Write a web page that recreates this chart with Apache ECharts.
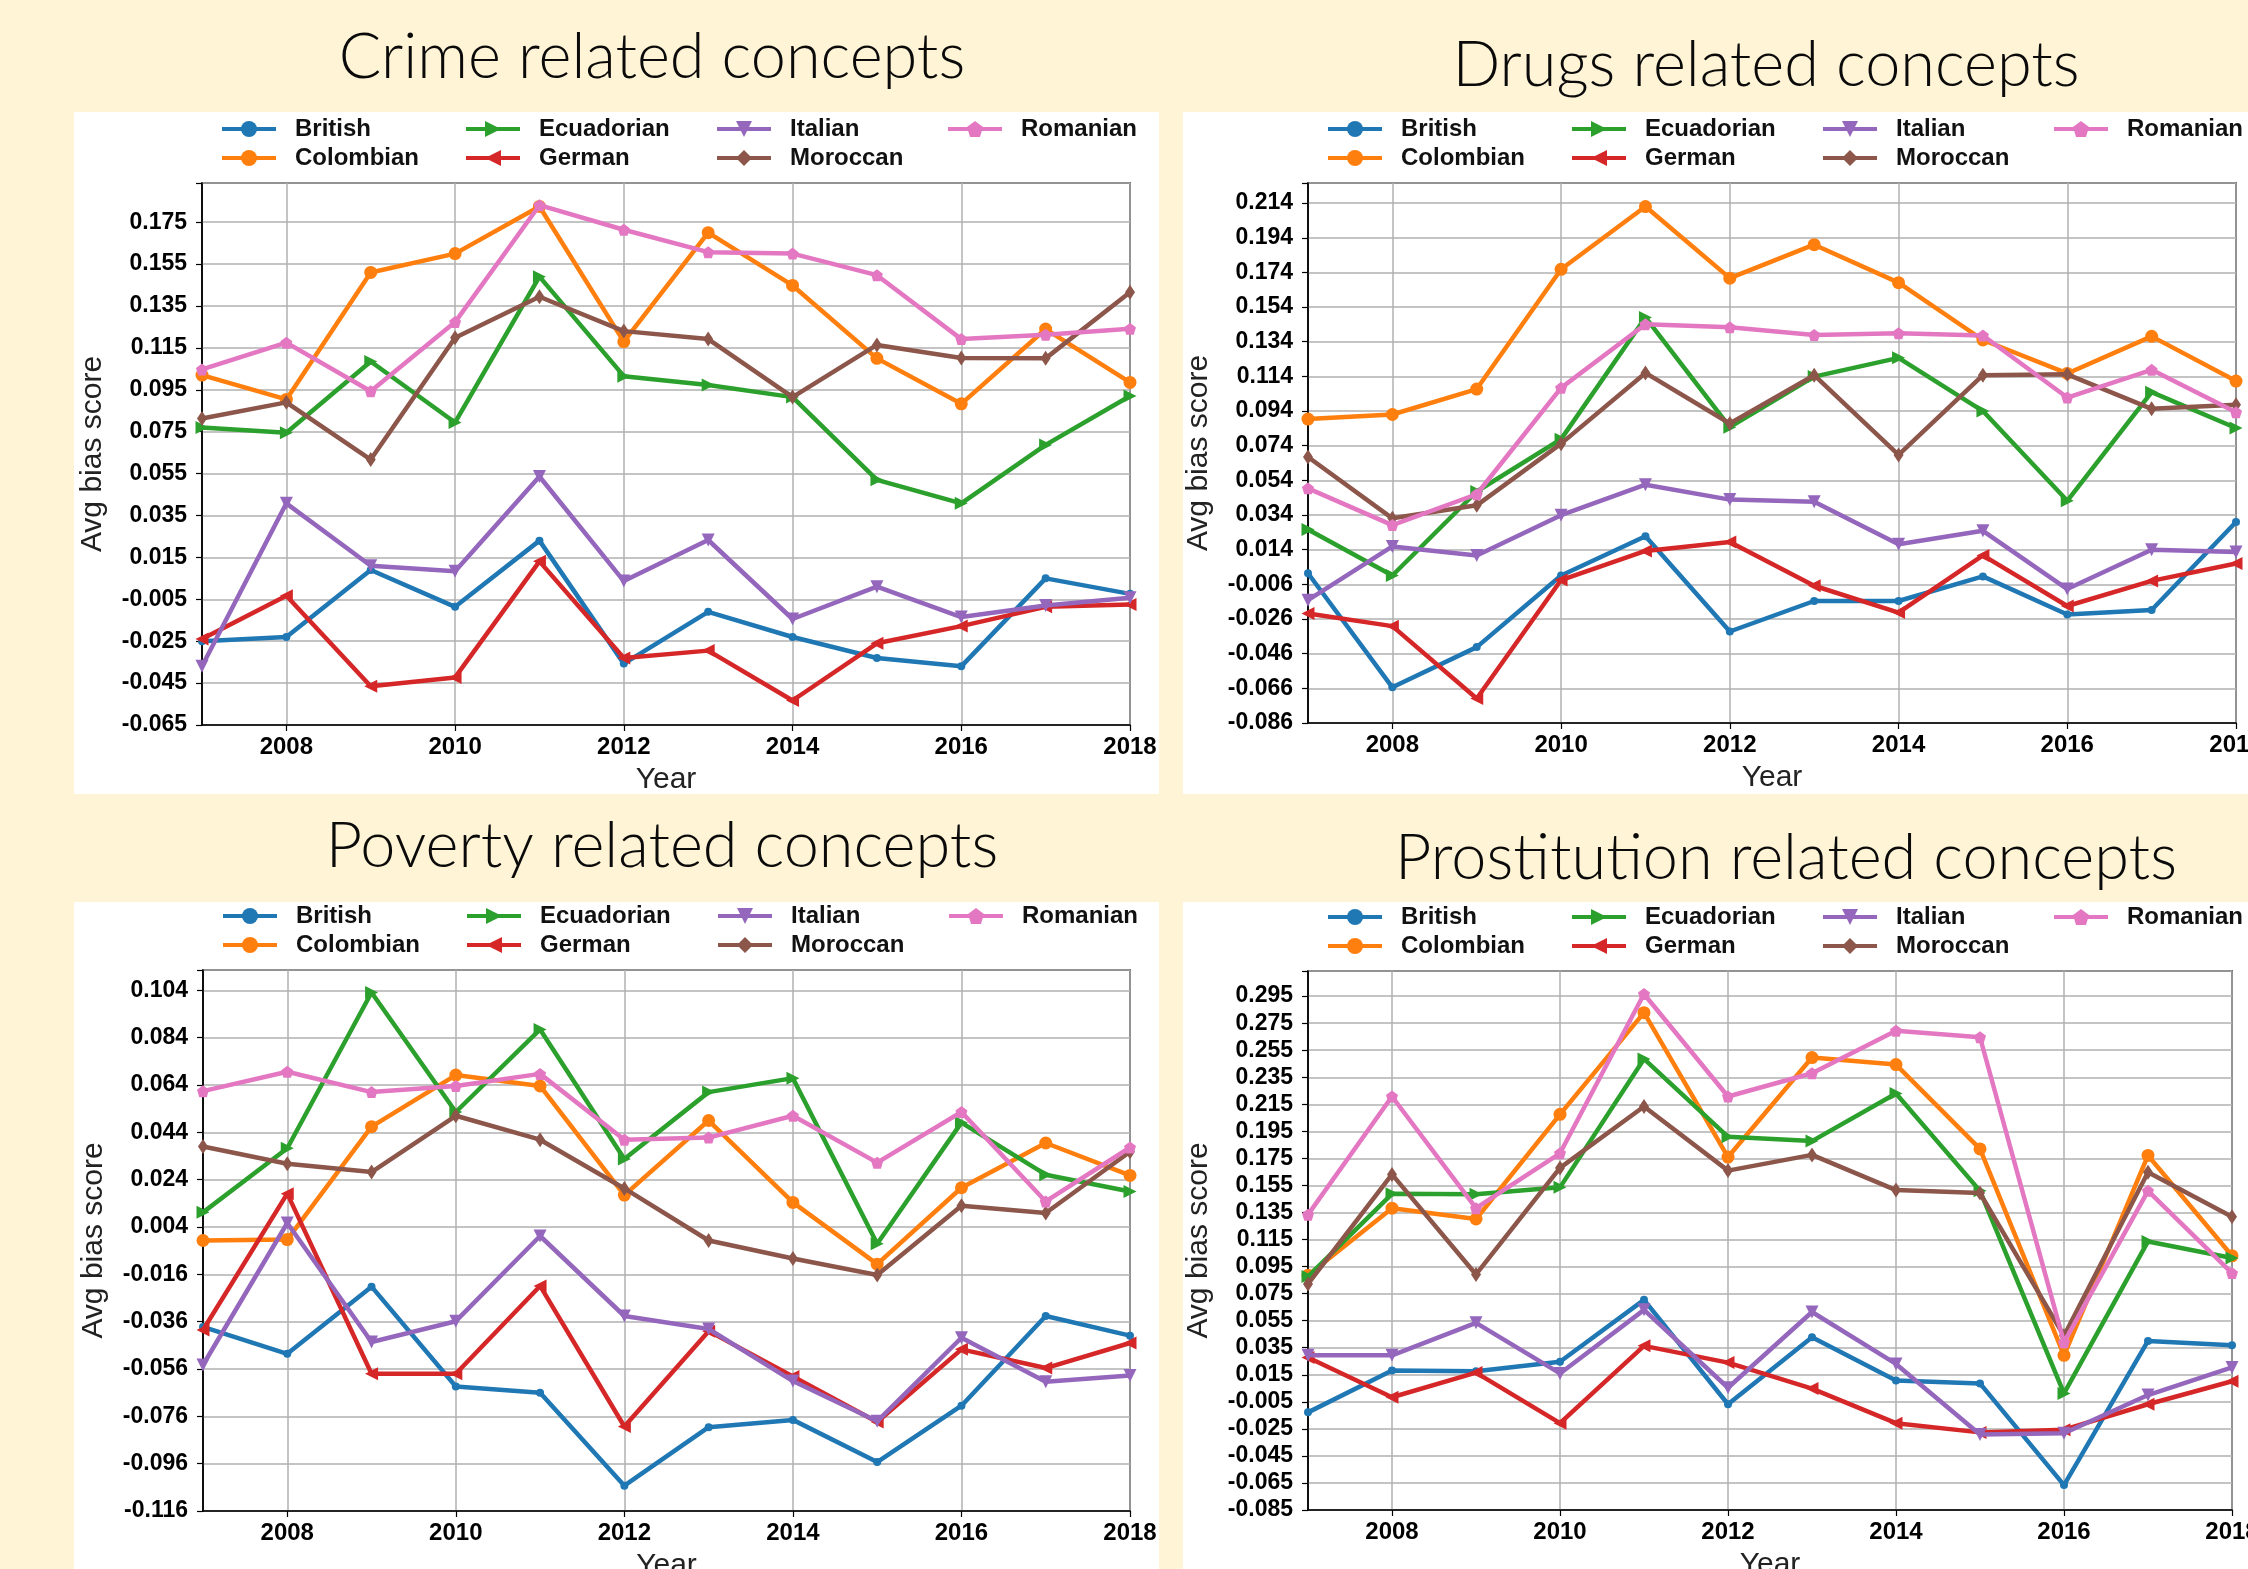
<!DOCTYPE html>
<html><head><meta charset="utf-8">
<script src="https://cdn.jsdelivr.net/npm/echarts@6/dist/echarts.min.js"></script>
<style>html,body{margin:0;padding:0;background:#FFF4D6;} #c{width:2248px;height:1569px;}</style>
</head><body><div id="c"></div>
<script>
// ---------- data ----------
const years = ['2007','2008','2009','2010','2011','2012','2013','2014','2015','2016','2017','2018'];
const nationalities = ['British','Colombian','Ecuadorian','German','Italian','Moroccan','Romanian'];
const panelTitles = ['Crime related concepts','Drugs related concepts','Poverty related concepts','Prostitution related concepts'];
const yTickStart = [-0.065, -0.086, -0.116, -0.085];
const yAxisMax = [0.1937, 0.2256, 0.1126, 0.3136];
const yTickStep = 0.02;
const legendColumns = [['British','Colombian'],['Ecuadorian','German'],['Italian','Moroccan'],['Romanian']];

const crimeBritish    = [-0.025,-0.023, 0.009,-0.0086, 0.023,-0.0357,-0.011,-0.023,-0.033,-0.037, 0.005,-0.0024];
const crimeColombian  = [0.102, 0.0904, 0.151, 0.160, 0.1825, 0.118, 0.170, 0.1448, 0.110, 0.0883, 0.124, 0.0985];
const crimeEcuadorian = [0.077, 0.0745, 0.1085, 0.0794, 0.149, 0.1015, 0.0973, 0.0915, 0.052, 0.0408, 0.0687, 0.092];
const crimeGerman     = [-0.024,-0.0033,-0.0465,-0.0423, 0.0131,-0.033,-0.0295,-0.0533,-0.026,-0.0178,-0.0086,-0.0075];
const crimeItalian    = [-0.037, 0.0408, 0.011, 0.0084, 0.0536, 0.0037, 0.0233,-0.0144, 0.001,-0.0135,-0.008,-0.0043];
const crimeMoroccan   = [0.0813, 0.089, 0.0617, 0.1198, 0.1394, 0.123, 0.1192, 0.0915, 0.1164, 0.1102, 0.110, 0.1416];
const crimeRomanian   = [0.1047, 0.1175, 0.0943, 0.1273, 0.1831, 0.1714, 0.1607, 0.160, 0.1497, 0.1192, 0.1213, 0.1241];

const drugsBritish    = [0.0004,-0.0654,-0.0422,-0.0009, 0.0218,-0.0332,-0.0156,-0.0156,-0.0014,-0.0234,-0.0208, 0.030];
const drugsColombian  = [0.0894, 0.092, 0.1067, 0.1758, 0.212, 0.1707, 0.190, 0.1681, 0.135, 0.1157, 0.1371, 0.1113];
const drugsEcuadorian = [0.0257,-0.0009, 0.0476, 0.0778, 0.148, 0.0847, 0.1139, 0.1247, 0.094, 0.0422, 0.1049, 0.0842];
const drugsGerman     = [-0.0228,-0.0301,-0.0719,-0.0035, 0.0133, 0.0184,-0.0068,-0.0223, 0.0107,-0.0185,-0.004, 0.006];
const drugsItalian    = [-0.0151, 0.0159, 0.0107, 0.0339, 0.0515, 0.0429, 0.0417, 0.0171, 0.0249,-0.0087, 0.014, 0.0127];
const drugsMoroccan   = [0.0675, 0.0321, 0.0396, 0.0752, 0.116, 0.0868, 0.1147, 0.0687, 0.1147, 0.1152, 0.0953, 0.0976];
const drugsRomanian   = [0.0494, 0.0282, 0.046, 0.1074, 0.1441, 0.1423, 0.1379, 0.1389, 0.1376, 0.1018, 0.1178, 0.0933];

const povertyBritish    = [-0.0382,-0.0496,-0.0212,-0.0634,-0.066,-0.1053,-0.0806,-0.0775,-0.0953,-0.0715,-0.0336,-0.0419];
const povertyColombian  = [-0.0017,-0.0013, 0.0464, 0.0682, 0.0636, 0.0175, 0.049, 0.0144,-0.0117, 0.0206, 0.0395, 0.0258];
const povertyEcuadorian = [0.0102, 0.0373, 0.1031, 0.0526, 0.0875, 0.0327, 0.061, 0.0669,-0.0031, 0.0481, 0.0261, 0.019];
const povertyGerman     = [-0.0395, 0.0181,-0.058,-0.058,-0.0209,-0.0803,-0.040,-0.0592,-0.0784,-0.0477,-0.0556,-0.045];
const povertyItalian    = [-0.0543, 0.0057,-0.0446,-0.0358, 0.0002,-0.0336,-0.0391,-0.0611,-0.0781,-0.0428,-0.0614,-0.0587];
const povertyMoroccan   = [0.038, 0.0307, 0.0272, 0.051, 0.0409, 0.0203,-0.0017,-0.0093,-0.0163, 0.013, 0.0099, 0.0358];
const povertyRomanian   = [0.0614, 0.0696, 0.061, 0.0636, 0.0687, 0.0409, 0.0418, 0.051, 0.0312, 0.0526, 0.0148, 0.0376];

const prostBritish    = [-0.0128, 0.0182, 0.0176, 0.0246, 0.0704,-0.0068, 0.0428, 0.0108, 0.0086,-0.0666, 0.040, 0.0368];
const prostColombian  = [0.0886, 0.1382, 0.1302, 0.2076, 0.2828, 0.176, 0.2496, 0.2444, 0.182, 0.0294, 0.1772, 0.103];
const prostEcuadorian = [0.0876, 0.1488, 0.1485, 0.1536, 0.2486, 0.191, 0.1878, 0.223, 0.151, 0.0012, 0.1136, 0.1014];
const prostGerman     = [0.0278,-0.0016, 0.0166,-0.0208, 0.0364, 0.024, 0.0048,-0.0208,-0.0276,-0.0256,-0.0068, 0.0102];
const prostItalian    = [0.0294, 0.0294, 0.0534, 0.016, 0.063, 0.0054, 0.0614, 0.023,-0.0292,-0.0282, 0.000, 0.0204];
const prostMoroccan   = [0.0822, 0.1632, 0.0892, 0.168, 0.2134, 0.166, 0.1776, 0.1516, 0.1494, 0.0438, 0.1648, 0.1318];
const prostRomanian   = [0.1334, 0.2208, 0.1382, 0.1788, 0.2966, 0.2208, 0.238, 0.2694, 0.2646, 0.039, 0.151, 0.0902];

const panelData = [
  [crimeBritish, crimeColombian, crimeEcuadorian, crimeGerman, crimeItalian, crimeMoroccan, crimeRomanian],
  [drugsBritish, drugsColombian, drugsEcuadorian, drugsGerman, drugsItalian, drugsMoroccan, drugsRomanian],
  [povertyBritish, povertyColombian, povertyEcuadorian, povertyGerman, povertyItalian, povertyMoroccan, povertyRomanian],
  [prostBritish, prostColombian, prostEcuadorian, prostGerman, prostItalian, prostMoroccan, prostRomanian]
];

// ---------- styling / layout ----------
const colors = ['#1f77b4','#ff7f0e','#2ca02c','#d62728','#9467bd','#8c564b','#e377c2'];
const symbols = ['circle','circle','path://M0,0L10,5L0,10Z','path://M10,0L0,5L10,10Z','path://M0,0L10,0L5,10Z','diamond','path://M5,0L10,3.8L8.1,10L1.9,10L0,3.8Z'];
const symbolSizes = [8, 13, 13, 13, 13, [10,15], 12];
const grids = [
  {left:202, top:183, width:928, height:542},
  {left:1308, top:183, width:928, height:540},
  {left:203, top:970, width:927, height:541},
  {left:1308, top:971, width:924, height:539}
];
const panels = [
  {x:74, y:112, w:1085, h:682},
  {x:1183, y:112, w:1080, h:682},
  {x:74, y:902, w:1085, h:680},
  {x:1183, y:902, w:1080, h:680}
];
const titlePos = [[652,58],[1766,66],[662,847],[1786,859]];
const legendColOffsets = [18, 262, 513, 744];
const FONT = '"Liberation Sans", Arial, Helvetica, sans-serif';

const evenYear = (idx) => idx % 2 === 1;

const graphic = [];
panels.forEach(p => graphic.push({type:'rect', z:-10, shape:{x:p.x, y:p.y, width:p.w, height:p.h}, style:{fill:'#ffffff'}}));
panelTitles.forEach((t, i) => graphic.push({
  type:'text', z:10, x:titlePos[i][0], y:titlePos[i][1],
  style:{text:t, fontFamily:'Lato, "Open Sans", sans-serif', fontWeight:300, fontSize:63, fill:'#0a0a0a',
         align:'center', verticalAlign:'middle', textAlign:'center', textVerticalAlign:'middle'}
}));

const xAxis = [], yAxis = [], series = [], legend = [];
grids.forEach((g, p) => {
  xAxis.push({
    type:'category', gridIndex:p, data:years, boundaryGap:false,
    axisLine:{onZero:false, lineStyle:{color:'#000', width:1.5}},
    axisTick:{show:true, length:6, interval:evenYear, lineStyle:{color:'#000', width:1.2}},
    axisLabel:{interval:evenYear, fontFamily:FONT, fontWeight:'bold', fontSize:24, color:'#000', margin:10},
    splitLine:{show:true, interval:evenYear, lineStyle:{color:'#b0b0b0', width:1.5}},
    name:'Year', nameLocation:'middle', nameGap:40,
    nameTextStyle:{fontFamily:FONT, fontSize:30, color:'#222'}
  });
  const mn = yTickStart[p];
  yAxis.push({
    type:'value', gridIndex:p, min:mn, max:yAxisMax[p], interval:yTickStep,
    axisLine:{show:true, onZero:false, lineStyle:{color:'#000', width:1.5}},
    axisTick:{show:true, length:6, lineStyle:{color:'#000', width:1.2}},
    axisLabel:{fontFamily:FONT, fontWeight:'bold', fontSize:23, color:'#000', margin:15,
      formatter:(v) => {
        const k = (v - mn) / yTickStep;
        return Math.abs(k - Math.round(k)) < 1e-6 ? v.toFixed(3) : '';
      }},
    splitLine:{show:true, lineStyle:{color:'#b0b0b0', width:1.5}},
    name:'Avg bias score', nameLocation:'middle', nameGap:94,
    nameTextStyle:{fontFamily:FONT, fontSize:30, color:'#222'}
  });
  nationalities.forEach((n, s) => {
    series.push({
      type:'line', name:n, xAxisIndex:p, yAxisIndex:p, data:panelData[p][s],
      symbol:symbols[s], symbolSize:symbolSizes[s], showSymbol:true, showAllSymbol:true,
      lineStyle:{color:colors[s], width:4.5}, itemStyle:{color:colors[s]},
      emphasis:{disabled:true}, animation:false, z:2+s*0.01
    });
  });
  legendColumns.forEach((col, c) => {
    legend.push({
      orient:'vertical', left:g.left + legendColOffsets[c], top:g.top - 66,
      padding:0, itemGap:5, itemWidth:54, itemHeight:20, selectedMode:false,
      data:col, lineStyle:{width:4},
      textStyle:{fontFamily:FONT, fontWeight:'bold', fontSize:24, lineHeight:24, color:'#111', padding:[0,0,0,14]}
    });
  });
});

const chart = echarts.init(document.getElementById('c'), null, {renderer:'canvas'});
chart.setOption({
  backgroundColor:'#FFF4D6',
  animation:false,
  color:colors,
  grid:grids.map(g => Object.assign({show:true, borderColor:'#000', borderWidth:1.5, backgroundColor:'transparent',
    containLabel:false, outerBoundsMode:'none'}, g)),
  xAxis, yAxis, series, legend, graphic
});
</script></body></html>
